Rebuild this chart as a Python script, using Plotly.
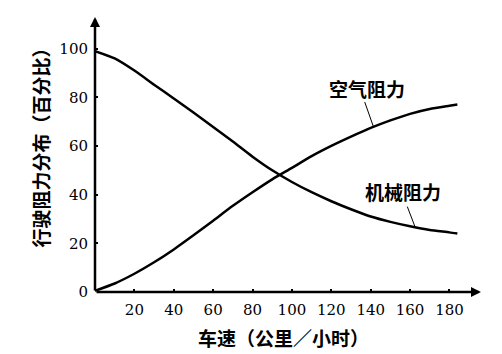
import plotly.graph_objects as go

speed = [0, 10, 20, 30, 40, 50, 60, 70, 80, 90, 100, 110, 120, 130, 140, 150, 160, 170, 180, 184]
mech = [99, 96, 91, 85.2, 79.5, 73.8, 67.8, 61.8, 55.6, 50, 45.2, 41, 37.3, 34, 31, 28.8, 27, 25.5, 24.5, 24]
air = [0.5, 3.5, 7.5, 12.2, 17.5, 23.3, 29.3, 35.4, 41, 46.3, 51, 55.8, 60, 63.8, 67.4, 70.5, 73.2, 75.2, 76.5, 77]

x_ticks = [20, 40, 60, 80, 100, 120, 140, 160, 180]
y_ticks = [0, 20, 40, 60, 80, 100]

cjk = "Noto Sans CJK SC"
serif = "DejaVu Serif"

fig = go.Figure()
fig.add_trace(go.Scatter(x=speed, y=mech, mode="lines",
                         line=dict(color="black", width=2.5, shape="spline", smoothing=0.6), showlegend=False))
fig.add_trace(go.Scatter(x=speed, y=air, mode="lines",
                         line=dict(color="black", width=2.5, shape="spline", smoothing=0.6), showlegend=False))

ann = []
# axis arrows
ann.append(dict(x=196, y=0, ax=0, ay=0, xref="x", yref="y", axref="x", ayref="y", text="",
                showarrow=True, arrowhead=2, arrowsize=0.8, arrowwidth=2.5, arrowcolor="black"))
ann.append(dict(x=0, y=113, ax=0, ay=0, xref="x", yref="y", axref="x", ayref="y", text="",
                showarrow=True, arrowhead=2, arrowsize=0.8, arrowwidth=2.5, arrowcolor="black"))
# curve labels with leader lines
ann.append(dict(x=138, y=83.5, xref="x", yref="y", text="空气阻力", showarrow=False,
                font=dict(family=cjk, size=19, color="black", weight="bold")))
ann.append(dict(x=141.4, y=67.9, ax=136.7, ay=78.7, xref="x", yref="y", axref="x", ayref="y", text="",
                showarrow=True, arrowhead=0, arrowwidth=1, arrowcolor="black"))
ann.append(dict(x=156.6, y=41.2, xref="x", yref="y", text="机械阻力", showarrow=False,
                font=dict(family=cjk, size=19, color="black", weight="bold")))
ann.append(dict(x=162.5, y=26.8, ax=158.3, ay=35.7, xref="x", yref="y", axref="x", ayref="y", text="",
                showarrow=True, arrowhead=0, arrowwidth=1, arrowcolor="black"))
# axis titles
ann.append(dict(x=0.492, y=-0.167, xref="paper", yref="paper", xanchor="center", yanchor="middle",
                text="车速（公里／小时）", showarrow=False,
                font=dict(family=cjk, size=19, color="black", weight="bold")))
ann.append(dict(x=-0.143, y=0.54, xref="paper", yref="paper", xanchor="center", yanchor="middle",
                text="行驶阻力分布（百分比）", showarrow=False,
                textangle=-90, font=dict(family=cjk, size=19, color="black", weight="bold")))

fig.update_layout(
    width=502, height=354,
    margin=dict(l=95, r=23, t=17, b=62),
    paper_bgcolor="white", plot_bgcolor="white",
    annotations=ann,
    xaxis=dict(range=[0, 195], tickvals=x_ticks, ticktext=[str(v) for v in x_ticks],
               showgrid=False, zeroline=False, showline=False,
               ticks="inside", ticklen=3, tickwidth=1.5, tickcolor="black",
               ticklabelstandoff=7,
               tickfont=dict(family=serif, size=15, color="black")),
    yaxis=dict(range=[0, 113], tickvals=y_ticks, ticktext=[str(v) for v in y_ticks],
               showgrid=False, zeroline=False, showline=False,
               ticks="inside", ticklen=3, tickwidth=1.5, tickcolor="black",
               ticklabelstandoff=6,
               tickfont=dict(family=serif, size=15, color="black")),
)

fig.write_html("out.html")
